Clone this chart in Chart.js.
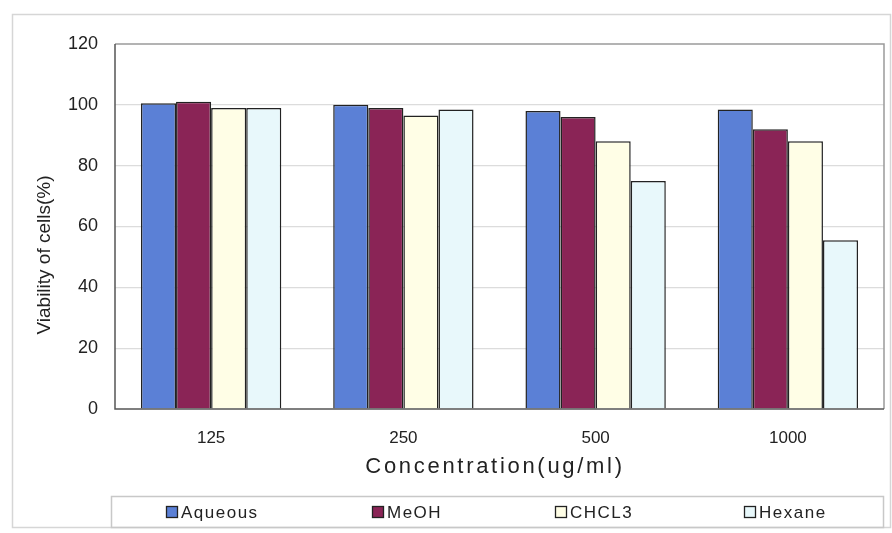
<!DOCTYPE html>
<html>
<head>
<meta charset="utf-8">
<script src="https://cdn.jsdelivr.net/npm/chart.js@4/dist/chart.umd.min.js"></script>
<style>
  html, body { margin: 0; padding: 0; background: #fff; }
  #wrap { width: 892px; height: 533px; }
</style>
</head>
<body>
<div id="wrap"><canvas id="viability" width="892" height="533"></canvas></div>
<script>
const concentrations = ['125', '250', '500', '1000'];
const aqueous = [100.5, 100, 98, 98.5];
const meoh = [101, 99, 96, 92];
const chcl3 = [99, 96.5, 88, 88];
const hexane = [99, 98.5, 75, 55.5];
const yTicks = [0, 20, 40, 60, 80, 100, 120];

const FONT = '"Liberation Sans", Arial, sans-serif';

// frame, plot border, axis titles and the boxed legend along the bottom
const decorations = {
    id: 'decorations',
    beforeDraw(chart) {
        const ctx = chart.ctx;
        ctx.save();
        ctx.strokeStyle = '#d6d6d6';
        ctx.lineWidth = 1.5;
        ctx.strokeRect(12.5, 14.5, 878, 513);
        ctx.restore();
    },
    afterDraw(chart) {
        const ctx = chart.ctx;
        const a = chart.chartArea;
        ctx.save();

        // plot border: darker on the axes, lighter top/right
        ctx.lineWidth = 1.5;
        ctx.strokeStyle = '#9a9a9a';
        ctx.beginPath();
        ctx.moveTo(a.left, a.top);
        ctx.lineTo(a.right, a.top);
        ctx.lineTo(a.right, a.bottom);
        ctx.stroke();
        ctx.strokeStyle = '#555';
        ctx.beginPath();
        ctx.moveTo(a.left, a.top);
        ctx.lineTo(a.left, a.bottom);
        ctx.lineTo(a.right, a.bottom);
        ctx.stroke();

        // axis titles
        ctx.fillStyle = '#222';
        ctx.font = '19px ' + FONT;
        ctx.textAlign = 'center';
        ctx.textBaseline = 'middle';
        ctx.save();
        ctx.translate(45, 255);
        ctx.rotate(-Math.PI / 2);
        ctx.fillText('Viability of cells(%)', 0, 0);
        ctx.restore();

        ctx.font = '22px ' + FONT;
        ctx.letterSpacing = '2.7px';
        ctx.fillText('Concentration(ug/ml)', 495, 467);

        // legend box
        ctx.letterSpacing = '1.5px';
        ctx.strokeStyle = '#c8c8c8';
        ctx.lineWidth = 1.5;
        ctx.strokeRect(111.5, 496.5, 772, 31);
        const xs = [166, 372, 555, 744];
        ctx.font = '17px ' + FONT;
        ctx.textAlign = 'left';
        chart.data.datasets.forEach((ds, i) => {
            ctx.fillStyle = ds.backgroundColor;
            ctx.fillRect(xs[i], 506, 12, 12);
            ctx.strokeStyle = '#222';
            ctx.lineWidth = 1.3;
            ctx.strokeRect(xs[i] + 0.5, 506.5, 11, 11);
            ctx.fillStyle = '#222';
            ctx.fillText(ds.label, xs[i] + 15, 513);
        });
        ctx.restore();
    }
};

new Chart(document.getElementById('viability').getContext('2d'), {
    type: 'bar',
    data: {
        labels: concentrations,
        datasets: [
            { label: 'Aqueous', data: aqueous, backgroundColor: '#5b80d6' },
            { label: 'MeOH', data: meoh, backgroundColor: '#8a2456' },
            { label: 'CHCL3', data: chcl3, backgroundColor: '#fffee6' },
            { label: 'Hexane', data: hexane, backgroundColor: '#e8f8fb' }
        ]
    },
    options: {
        responsive: false,
        animation: false,
        layout: { padding: { left: 0, right: 8, top: 44, bottom: 0 } },
        datasets: {
            bar: {
                borderColor: '#222',
                borderWidth: 1.5,
                barPercentage: 1,
                categoryPercentage: 0.73
            }
        },
        plugins: {
            legend: { display: false },
            tooltip: { enabled: false }
        },
        scales: {
            x: {
                afterFit(scale) { scale.height = 124; },
                grid: { display: false, drawTicks: false },
                border: { display: false },
                ticks: {
                    padding: 19,
                    color: '#222',
                    font: { family: FONT, size: 17 }
                }
            },
            y: {
                min: 0,
                max: 120,
                afterFit(scale) { scale.width = 115; },
                afterBuildTicks(scale) {
                    scale.ticks = yTicks.map(v => ({ value: v }));
                },
                grid: {
                    drawTicks: false,
                    color: ctx => (ctx.tick.value === 0 || ctx.tick.value === 120) ? 'rgba(0,0,0,0)' : '#dcdcdc',
                    lineWidth: 1.2
                },
                border: { display: false },
                ticks: {
                    padding: 17,
                    color: '#222',
                    font: { family: FONT, size: 18 }
                }
            }
        }
    },
    plugins: [decorations]
});
</script>
</body>
</html>
